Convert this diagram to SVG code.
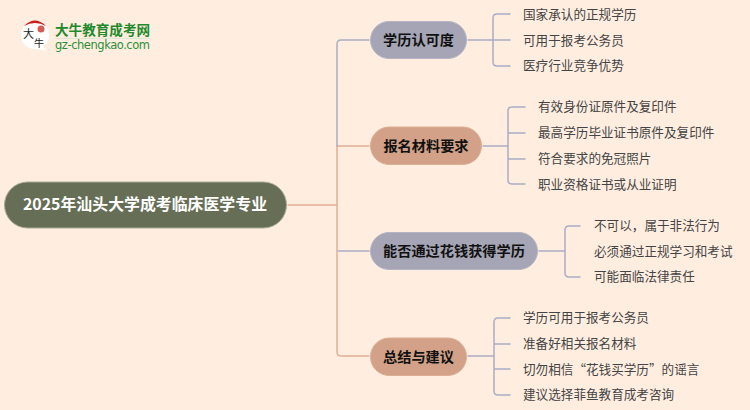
<svg xmlns="http://www.w3.org/2000/svg" width="750" height="410" viewBox="0 0 750 410">
<style>
text{font-family:"Noto Sans CJK SC","Liberation Sans",sans-serif}
.c{fill:none;stroke-width:1.5;stroke-linecap:round}
.b{stroke:#abadc4}.o{stroke:#e2af95}
.m{font-size:14.200px;font-weight:700;fill:#111}
.l{font-size:12.600px;fill:#444}
.pb{fill:#a6a5b5;stroke:#b5b4c4}.po{fill:#d2a187;stroke:#dcae96}
</style>
<rect width="750" height="410" fill="#ffeee0"/>
<g id="connectors">
<path class="c o" d="M288 205H337V146H369M337 205V352Q337 356 341 356H369"/>
<path class="c b" d="M337 146V44Q337 40 341 40H369"/>
<path class="c b" d="M338 251H369"/>
<path class="c b" d="M468 40H510M510 14H497Q493 14 493 18V62Q493 66 497 66H510"/>
<path class="c b" d="M483 146H508M525 107H512Q508 107 508 111V180Q508 184 512 184H525M508 133H525M508 159H525"/>
<path class="c b" d="M539 251H565M580 226H569Q565 226 565 230V273Q565 277 569 277H580"/>
<path class="c b" d="M468 356H494M510 318H498Q494 318 494 322V391Q494 395 498 395H510M494 344H510M494 369H510"/>
</g>
<g id="logo">
<circle cx="35" cy="35" r="14" fill="#fff"/>
<path d="M27 46L46 51L42 44Z" fill="#fff"/>
<path d="M24 26Q35 15 46 26Q35 20 24 26Z" fill="#c8201c"/>
<circle cx="41" cy="29" r="3.500" fill="#d55a50"/>
<text x="23" y="38" font-size="11" fill="#222">大</text>
<text x="34" y="47" font-size="10" fill="#222">牛</text>
<text x="55" y="35" font-size="13.600" font-weight="700" fill="#1e8a2c">大牛教育成考网</text>
<rect x="55" y="38" width="95" height="1" fill="#dfe6d2"/>
<text x="55" y="49" font-size="11.500" fill="#2a8f38" style="font-family:'DejaVu Sans',sans-serif" textLength="95">gz-chengkao.com</text>
</g>
<g id="root"><rect x="4.500" y="182" width="282" height="46" rx="23" fill="#666e56" stroke="#a9ab95"/>
<text x="145" y="210" text-anchor="middle" font-size="15.900" font-weight="700" fill="#fff">2025年汕头大学成考临床医学专业</text></g>
<g id="n1"><rect class="pb" x="370.500" y="21.500" width="96" height="37" rx="18.500"/><text class="m" x="418.500" y="45" text-anchor="middle">学历认可度</text></g>
<g id="n2"><rect class="po" x="370.500" y="127" width="111" height="37.500" rx="18.700"/><text class="m" x="426" y="151" text-anchor="middle">报名材料要求</text></g>
<g id="n3"><rect class="pb" x="370.500" y="232.500" width="167" height="37" rx="18.500"/><text class="m" x="454" y="256" text-anchor="middle">能否通过花钱获得学历</text></g>
<g id="n4"><rect class="po" x="370.500" y="338" width="96" height="37.500" rx="18.700"/><text class="m" x="418.500" y="362" text-anchor="middle">总结与建议</text></g>
<g id="n1-leaves"><text class="l" x="523" y="19">国家承认的正规学历</text><text class="l" x="523" y="45">可用于报考公务员</text><text class="l" x="523" y="70">医疗行业竞争优势</text></g>
<g id="n2-leaves"><text class="l" x="538" y="111">有效身份证原件及复印件</text><text class="l" x="538" y="137">最高学历毕业证书原件及复印件</text><text class="l" x="538" y="163">符合要求的免冠照片</text><text class="l" x="538" y="189">职业资格证书或从业证明</text></g>
<g id="n3-leaves"><text class="l" x="594" y="230">不可以，属于非法行为</text><text class="l" x="594" y="256">必须通过正规学习和考试</text><text class="l" x="594" y="281">可能面临法律责任</text></g>
<g id="n4-leaves"><text class="l" x="523" y="322">学历可用于报考公务员</text><text class="l" x="523" y="348">准备好相关报名材料</text><text class="l" x="523" y="374">切勿相信“花钱买学历”的谣言</text><text class="l" x="523" y="399">建议选择菲鱼教育成考咨询</text></g>
</svg>
